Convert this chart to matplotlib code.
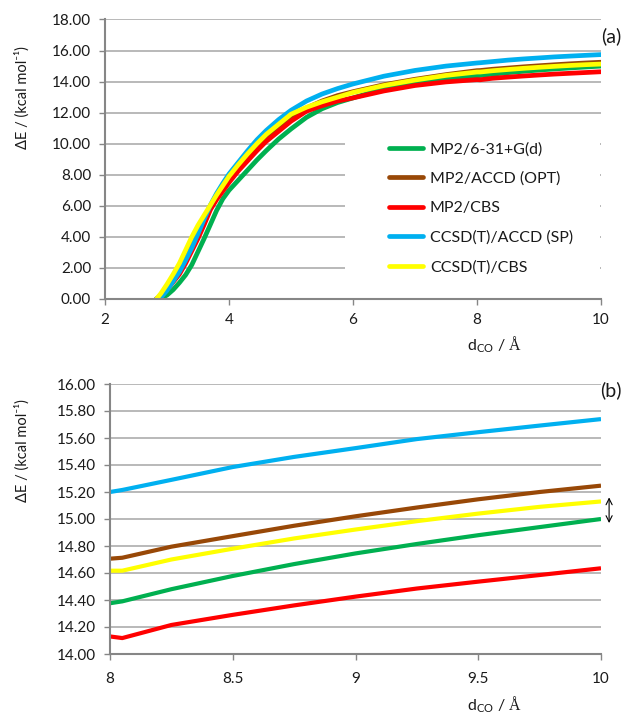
import numpy as np
import matplotlib.pyplot as plt
from matplotlib.patches import Rectangle
from matplotlib.ticker import FormatStrFormatter, MultipleLocator

plt.rcParams["font.family"] = ["Lato", "DejaVu Sans"]
plt.rcParams["mathtext.fontset"] = "custom"
plt.rcParams["mathtext.rm"] = "Liberation Serif"
plt.rcParams["mathtext.sf"] = "Lato"

# interaction energy scan, dCO in angstrom, dE in kcal/mol
D_CO = [2.83, 2.9, 3.0, 3.1, 3.2, 3.3, 3.4, 3.5, 3.6, 3.7, 3.8, 3.9, 4.0, 4.15, 4.3, 4.45,
        4.6, 4.8, 5.0, 5.25, 5.5, 5.75, 6.0, 6.5, 7.0, 7.5,
        8.0, 8.05, 8.25, 8.5, 8.75, 9.0, 9.25, 9.5, 9.75, 10.0]
mp2_631 = [0.0, 0.05, 0.25, 0.6, 1.05, 1.55, 2.2, 3.05, 3.9, 4.8, 5.7, 6.45, 7.0, 7.65, 8.3, 8.95,
           9.55, 10.3, 10.95, 11.7, 12.25, 12.65, 12.95, 13.55, 13.9, 14.18,
           14.376, 14.39, 14.48, 14.578, 14.666, 14.745, 14.815, 14.88, 14.94, 15.0]
mp2_accd = [0.0, 0.25, 0.8, 1.35, 1.9, 2.65, 3.45, 4.3, 5.15, 6.0, 6.6, 7.2, 7.75, 8.45, 9.15, 9.8,
            10.4, 11.05, 11.7, 12.3, 12.75, 13.1, 13.35, 13.8, 14.15, 14.45,
            14.706, 14.713, 14.795, 14.873, 14.95, 15.02, 15.085, 15.146, 15.2, 15.247]
mp2_cbs = [0.0, 0.15, 0.6, 1.1, 1.6, 2.3, 3.1, 3.9, 4.8, 5.75, 6.4, 6.95, 7.5, 8.25, 8.9, 9.55,
           10.15, 10.8, 11.45, 12.1, 12.45, 12.75, 12.95, 13.4, 13.75, 13.98,
           14.13, 14.118, 14.215, 14.29, 14.36, 14.425, 14.485, 14.536, 14.585, 14.635]
ccsdt_accd = [0.0, 0.1, 0.55, 1.15, 1.75, 2.5, 3.3, 4.2, 5.15, 6.05, 6.8, 7.45, 8.05, 8.8, 9.55, 10.25,
              10.85, 11.55, 12.15, 12.75, 13.2, 13.55, 13.85, 14.35, 14.72, 15.0,
              15.2, 15.215, 15.29, 15.385, 15.46, 15.525, 15.592, 15.643, 15.692, 15.74]
ccsdt_cbs = [0.0, 0.35, 0.95, 1.6, 2.3, 3.15, 4.0, 4.75, 5.4, 6.05, 6.7, 7.3, 7.9, 8.65, 9.35, 10.0,
             10.6, 11.25, 11.9, 12.35, 12.7, 13.0, 13.3, 13.75, 14.1, 14.4,
             14.617, 14.617, 14.7, 14.78, 14.856, 14.922, 14.984, 15.04, 15.09, 15.13]

LABELS = ["MP2/6-31+G(d)", "MP2/ACCD (OPT)", "MP2/CBS", "CCSD(T)/ACCD (SP)", "CCSD(T)/CBS"]
COLORS = ["#00B050", "#984807", "#FF0000", "#00B0F0", "#FFFF00"]
SERIES = [mp2_631, mp2_accd, mp2_cbs, ccsdt_accd, ccsdt_cbs]

GRID = "#a6a6a6"
SPINE = "#868686"
TXT = "#1a1a1a"


def style(ax):
    ax.set_axisbelow(True)
    ax.grid(axis="y", color=GRID, lw=1.1)
    for s in ("top", "right"):
        ax.spines[s].set_visible(False)
    for s in ("left", "bottom"):
        ax.spines[s].set_color(SPINE)
        ax.spines[s].set_linewidth(1.5)
    ax.tick_params(direction="out", length=4, width=1, color=SPINE,
                   labelsize=11, labelcolor=TXT, pad=6)


fig = plt.figure(figsize=(6.28, 7.16), dpi=100)
ax_a = fig.add_axes([105 / 628, 1 - 299 / 716, 496 / 628, 279.5 / 716])
ax_b = fig.add_axes([110 / 628, 1 - 654 / 716, 491 / 628, 270 / 716])

for ys, c, lbl in zip(SERIES, COLORS, LABELS):
    ax_a.plot(D_CO, ys, color=c, lw=3.4, label=lbl, solid_capstyle="round",
              solid_joinstyle="round")
    ax_b.plot(D_CO, ys, color=c, lw=3.0, solid_capstyle="butt")

# (a) full scan
style(ax_a)
ax_a.set_xlim(2, 10)
ax_a.set_ylim(0, 18)
ax_a.yaxis.set_major_locator(MultipleLocator(2))
ax_a.yaxis.set_major_formatter(FormatStrFormatter("%.2f"))
ax_a.xaxis.set_major_locator(MultipleLocator(2))
# white box behind the legend hides the gridlines, as in the original
ax_a.add_patch(Rectangle((0.484, 0.045), 0.514, 0.59, transform=ax_a.transAxes,
                         facecolor="white", edgecolor="none", zorder=1.5))
leg = ax_a.legend(loc="upper left", bbox_to_anchor=(0.56, 0.584), frameon=False,
                  fontsize=11.5, handlelength=2.1, handletextpad=0.45, labelspacing=0.95,
                  borderaxespad=0)
for t in leg.get_texts():
    t.set_color(TXT)
for h in leg.get_lines():
    h.set_linewidth(3.4)

# (b) long-range tail
style(ax_b)
ax_b.set_xlim(8, 10)
ax_b.set_ylim(14, 16)
ax_b.yaxis.set_major_locator(MultipleLocator(0.2))
ax_b.yaxis.set_major_formatter(FormatStrFormatter("%.2f"))
ax_b.set_xticks([8, 8.5, 9, 9.5, 10], ["8", "8.5", "9", "9.5", "10"])
ax_b.tick_params(axis="x", pad=9)
ax_b.annotate("", xy=(10.033, mp2_631[-1] - 0.03), xytext=(10.033, ccsdt_cbs[-1] + 0.03),
              annotation_clip=False,
              arrowprops=dict(arrowstyle="<->", color="black", lw=0.8,
                              shrinkA=0, shrinkB=0, mutation_scale=11))

ylab = "ΔE / (kcal mol⁻¹)"
fig.text(22 / 628, 1 - 98 / 716, ylab, rotation=90, ha="center", va="center",
         fontsize=10.5, color=TXT)
fig.text(22 / 628, 1 - 451 / 716, ylab, rotation=90, ha="center", va="center",
         fontsize=10.5, color=TXT)
xlab = r"d$_{\mathsf{CO}}$ / $\mathrm{\AA}$"
fig.text(494 / 628, 1 - 345 / 716, xlab, ha="center", va="center", fontsize=11.5, color=TXT)
fig.text(494 / 628, 1 - 705 / 716, xlab, ha="center", va="center", fontsize=11.5, color=TXT)
fig.text(611 / 628, 1 - 36 / 716, "(a)", ha="center", va="center", fontsize=14, color=TXT)
fig.text(611 / 628, 1 - 390 / 716, "(b)", ha="center", va="center", fontsize=14, color=TXT)

fig.savefig("out.png", dpi=100)
